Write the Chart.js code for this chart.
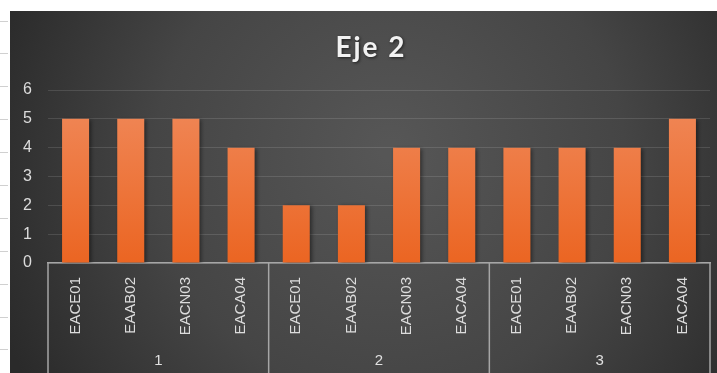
<!DOCTYPE html>
<html>
<head>
<meta charset="utf-8">
<title>Eje 2</title>
<script src="https://cdn.jsdelivr.net/npm/chart.js@4.4.1/dist/chart.umd.min.js"></script>
<style>
  html, body { margin: 0; padding: 0; background: #ffffff; }
  #wrap { position: relative; width: 717px; height: 373px; }
</style>
</head>
<body>
<div id="wrap"><canvas id="ChartEje2"></canvas></div>
<script>
// sub-categories (one per bar) and the group each one belongs to
const codes = ['EACE01', 'EAAB02', 'EACN03', 'EACA04',
               'EACE01', 'EAAB02', 'EACN03', 'EACA04',
               'EACE01', 'EAAB02', 'EACN03', 'EACA04'];
const groups = ['1', '2', '3'];
const groupSize = 4;
const values = [5, 5, 5, 4, 2, 2, 4, 4, 4, 4, 4, 5];
const yTicks = [0, 1, 2, 3, 4, 5, 6];

const LEFT = 10, TOP = 11;

// dark panel with a soft radial light, plus the sheet's row marks on the left
const panelBg = {
  id: 'panelBg',
  beforeDraw(chart) {
    const { ctx, width, height } = chart;
    ctx.save();
    ctx.fillStyle = '#ffffff';
    ctx.fillRect(0, 0, width, height);
    const g = ctx.createRadialGradient(390, 150, 10, 390, 170, 420);
    g.addColorStop(0, '#565656');
    g.addColorStop(0.55, '#454545');
    g.addColorStop(1, '#2a2a2a');
    ctx.fillStyle = g;
    ctx.fillRect(LEFT, TOP, width - LEFT, height - TOP);
    ctx.strokeStyle = '#d0d0d0';
    ctx.lineWidth = 1;
    for (let y = 20.5; y < height; y += 32.9) {
      ctx.beginPath();
      ctx.moveTo(0, Math.round(y) + 0.5);
      ctx.lineTo(8, Math.round(y) + 0.5);
      ctx.stroke();
    }
    ctx.restore();
  }
};

// title drawn with a slight drop shadow
const titleText = {
  id: 'titleText',
  afterDraw(chart) {
    const { ctx } = chart;
    ctx.save();
    ctx.font = 'bold 28px Lato';
    ctx.letterSpacing = '2px';
    ctx.textAlign = 'center';
    ctx.textBaseline = 'alphabetic';
    ctx.shadowColor = 'rgba(0,0,0,0.6)';
    ctx.shadowBlur = 3;
    ctx.shadowOffsetX = 1;
    ctx.shadowOffsetY = 1;
    ctx.fillStyle = '#f2f2f2';
    ctx.fillText('Eje 2', 371, 57);
    ctx.restore();
  }
};

// shadow behind the bars
const barShadow = {
  id: 'barShadow',
  beforeDatasetsDraw(chart) {
    const { ctx } = chart;
    ctx.save();
    ctx.shadowColor = 'rgba(0,0,0,0.45)';
    ctx.shadowBlur = 4;
    ctx.shadowOffsetX = 2;
    ctx.shadowOffsetY = 1;
  },
  afterDatasetsDraw(chart) {
    chart.ctx.restore();
  }
};

// group boxes under the axis: separators and the group numbers
const groupAxis = {
  id: 'groupAxis',
  afterDraw(chart) {
    const { ctx, scales: { x }, height } = chart;
    const half = (x.getPixelForValue(1) - x.getPixelForValue(0)) / 2;
    const y0 = x.top;
    ctx.save();
    ctx.strokeStyle = '#a6a6a6';
    ctx.lineWidth = 1.5;
    for (let i = 0; i <= groups.length; i++) {
      const px = i * groupSize < codes.length
        ? x.getPixelForValue(i * groupSize) - half
        : x.getPixelForValue(codes.length - 1) + half;
      ctx.beginPath();
      ctx.moveTo(px, y0);
      ctx.lineTo(px, height);
      ctx.stroke();
    }
    ctx.fillStyle = '#e0e0e0';
    ctx.font = '15px "Liberation Sans"';
    ctx.textAlign = 'center';
    ctx.textBaseline = 'middle';
    groups.forEach((g, i) => {
      const a = x.getPixelForValue(i * groupSize);
      const b = x.getPixelForValue(i * groupSize + groupSize - 1);
      ctx.fillText(g, (a + b) / 2, 361);
    });
    ctx.restore();
  }
};

const ctx = document.getElementById('ChartEje2').getContext('2d');

let eje2Chart = new Chart(ctx, {
  type: 'bar',
  data: {
    labels: codes,
    datasets: [{
      label: 'Eje 2',
      data: values,
      backgroundColor: function (context) {
        const area = context.chart.chartArea;
        if (!area) return '#ed7434';
        const g = context.chart.ctx.createLinearGradient(0, area.top, 0, area.bottom);
        g.addColorStop(0, '#f08a5c');
        g.addColorStop(1, '#eb6522');
        return g;
      },
      barPercentage: 0.98,
      categoryPercentage: 0.5,
    }]
  },
  options: {
    animation: false,
    responsive: true,
    maintainAspectRatio: false,
    layout: {
      padding: { left: LEFT, top: 90, right: 7, bottom: 0 },
    },
    plugins: {
      legend: { display: false },
      tooltip: { enabled: false },
      title: { display: false },
    },
    scales: {
      x: {
        afterFit(scale) { scale.height = 110; },
        grid: { display: false },
        border: { display: true, color: '#a6a6a6', width: 1.5 },
        ticks: {
          color: '#dcdcdc',
          font: { family: 'Liberation Sans', size: 15 },
          minRotation: 90,
          maxRotation: 90,
          padding: 6,
          autoSkip: false,
        },
      },
      y: {
        min: 0,
        max: 6,
        afterFit(scale) { scale.width = 38; },
        afterBuildTicks(scale) { scale.ticks = yTicks.map(v => ({ value: v })); },
        border: { display: false },
        grid: {
          color: 'rgba(255,255,255,0.12)',
          lineWidth: 1,
          drawTicks: false,
        },
        ticks: {
          color: '#dcdcdc',
          font: { family: 'Liberation Sans', size: 16 },
          padding: 16,
        },
      },
    },
  },
  plugins: [panelBg, barShadow, groupAxis, titleText],
});
</script>
</body>
</html>
